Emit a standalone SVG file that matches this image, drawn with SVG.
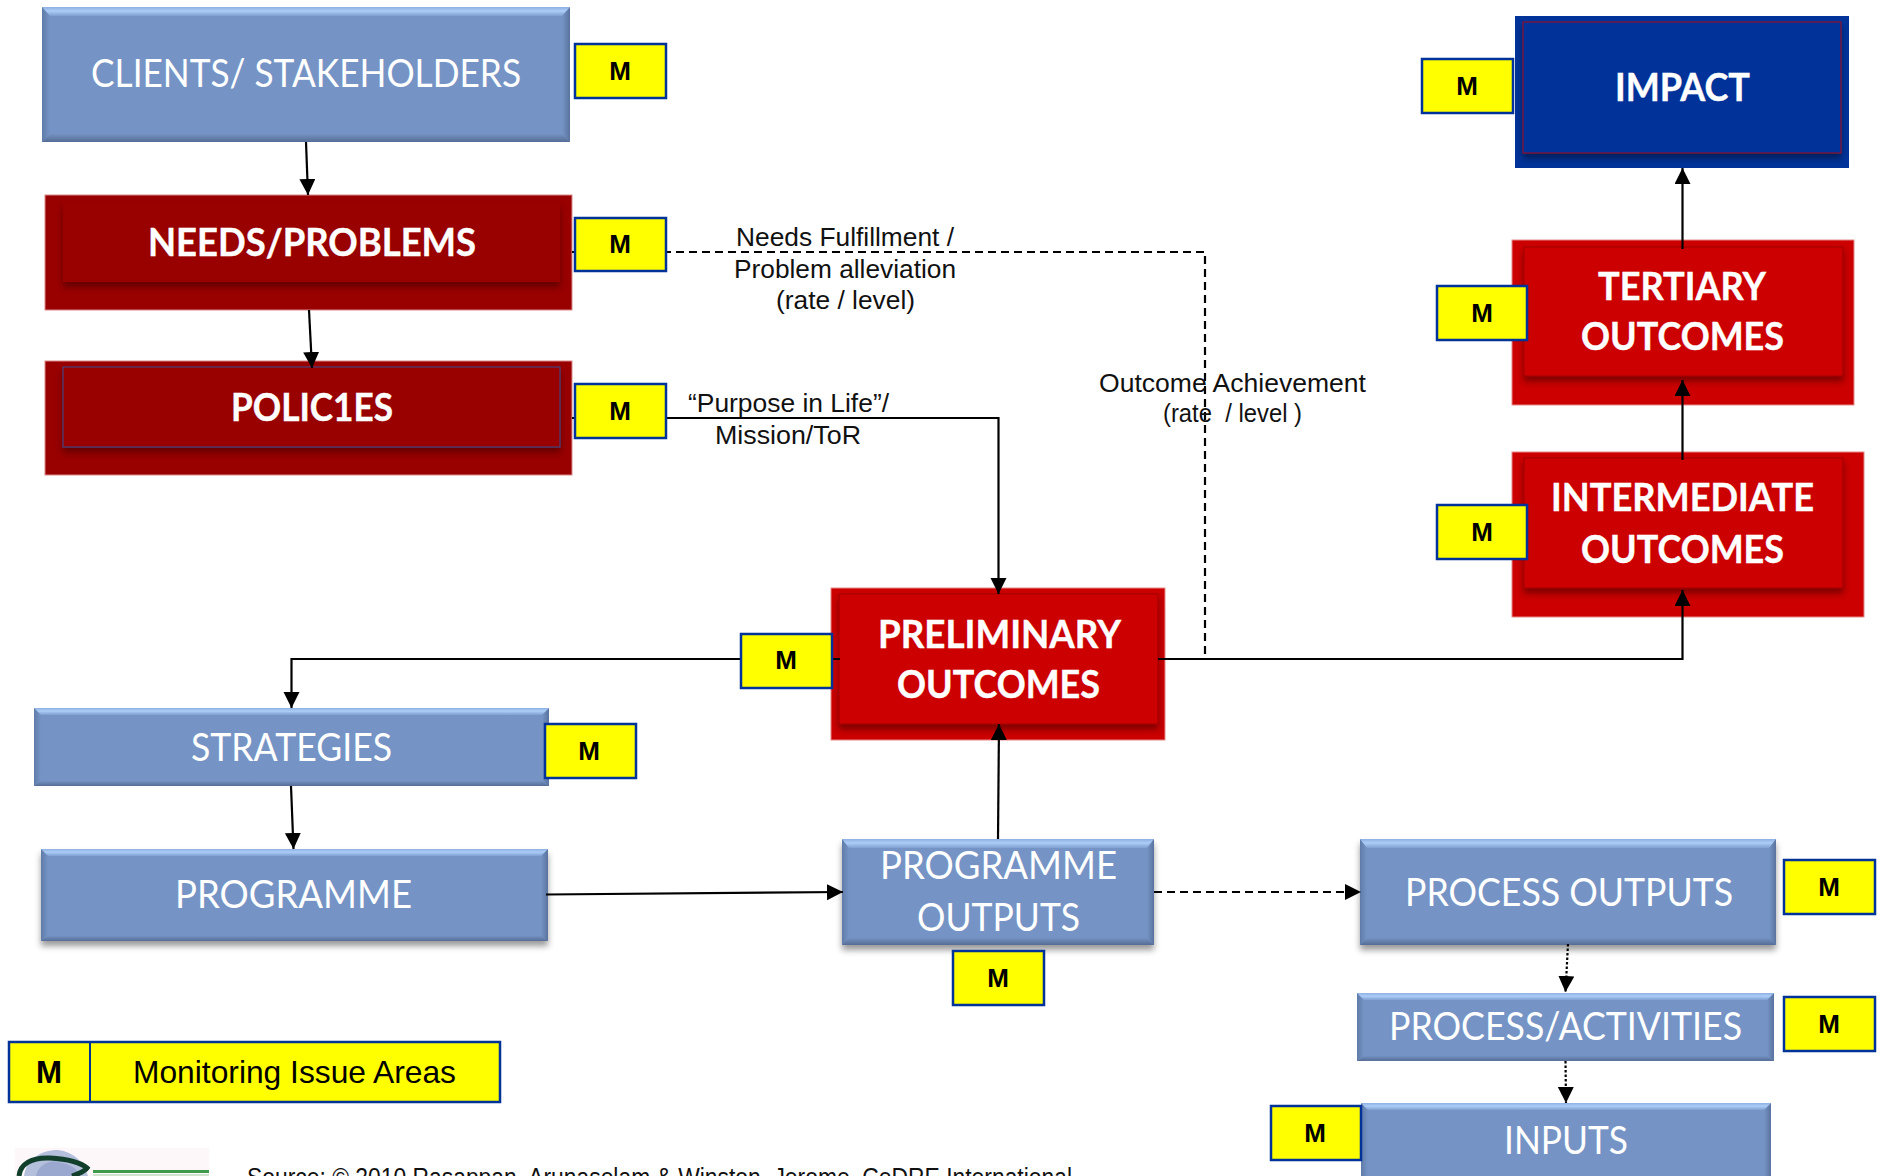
<svg xmlns="http://www.w3.org/2000/svg" width="1881" height="1176" viewBox="0 0 1881 1176">
<style>
text{font-family:"Liberation Sans",Arial,sans-serif}
.lt{font-family:Lato,"Open Sans",sans-serif;font-size:38px;fill:#fff}
.bd{font-family:Lato,"Open Sans",sans-serif;font-size:38px;font-weight:700;fill:#fff;stroke:#fff;stroke-width:.4}
.lb{font-size:26px;fill:#111}
.m{font-size:26px;font-weight:700;fill:#000;text-anchor:middle}
.mb{fill:#ff0;stroke:#003399;stroke-width:2.5}
.blue{fill:#7594c5}
.top{fill:url(#gt)}
.sl{fill:url(#gl)}
.sr{fill:url(#gr)}
.bot{fill:url(#gb)}
.dr{fill:#990000;stroke:#d98a8a;stroke-width:1}
.br{fill:#cc0000;stroke:#e58a8a;stroke-width:1}
.c{fill:none;stroke:#000;stroke-width:2.2}
.da{stroke-dasharray:8 5}
.do{stroke-dasharray:2.5 2}
</style>
<defs>
<linearGradient id="gt" x1="0" y1="0" x2="0" y2="1"><stop offset="0" stop-color="#8fb0e2"/><stop offset="0.45" stop-color="#abcdf6"/><stop offset="1" stop-color="#7f9fd0"/></linearGradient>
<linearGradient id="gl" x1="0" y1="0" x2="1" y2="0"><stop offset="0" stop-color="#5f7ba8"/><stop offset="1" stop-color="#7594c5"/></linearGradient>
<linearGradient id="gr" x1="0" y1="0" x2="1" y2="0"><stop offset="0" stop-color="#7594c5"/><stop offset="1" stop-color="#5a739e"/></linearGradient>
<linearGradient id="gb" x1="0" y1="0" x2="0" y2="1"><stop offset="0" stop-color="#7391c1"/><stop offset="1" stop-color="#566d96"/></linearGradient>
<filter id="sh" x="-5%" y="-5%" width="110%" height="125%"><feDropShadow dx="0" dy="5" stdDeviation="3" flood-color="#000" flood-opacity="0.4"/></filter>
<filter id="sr" x="-5%" y="-5%" width="110%" height="120%"><feDropShadow dx="0" dy="5" stdDeviation="3" flood-color="#300" flood-opacity="0.5"/></filter>
<marker id="a" markerUnits="userSpaceOnUse" markerWidth="18" markerHeight="18" refX="16" refY="8" orient="auto"><path d="M0,0L16,8L0,16Z" fill="#000"/></marker>
</defs>

<g id="clients">
<rect class="blue" x="42" y="7" width="528" height="135"/>
<path class="sl" d="M42,7L50,14V134L42,142Z"/>
<path class="sr" d="M570,7L562,14V134L570,142Z"/>
<path class="top" d="M42,7H570L562,16H50Z"/>
<path class="bot" d="M42,142L50,134H562L570,142Z"/>
<text class="lt" x="91" y="87" textLength="430" lengthAdjust="spacingAndGlyphs">CLIENTS/ STAKEHOLDERS</text>
</g>
<g id="needs">
<rect class="dr" x="45" y="195" width="527" height="115"/>
<rect x="63" y="202" width="497" height="80" fill="#990000" filter="url(#sr)"/>
<text class="bd" x="148" y="256" textLength="328" lengthAdjust="spacingAndGlyphs">NEEDS/PROBLEMS</text>
</g>
<g id="policies">
<rect class="dr" x="45" y="361" width="527" height="114"/>
<rect x="63" y="367" width="497" height="80" fill="#990000" stroke="#3a4f8f" stroke-width="1" filter="url(#sr)"/>
<text class="bd" x="231" y="421" textLength="162" lengthAdjust="spacingAndGlyphs">POLIC1ES</text>
</g>
<g id="impact">
<rect x="1515" y="16" width="334" height="152" fill="#003399"/>
<rect x="1523" y="22" width="318" height="131" fill="#003399" stroke="#8a1030" stroke-width="1.200" filter="url(#sh)"/>
<text class="bd" x="1615" y="101" textLength="135" lengthAdjust="spacingAndGlyphs">IMPACT</text>
</g>
<g id="tertiary">
<rect class="br" x="1512" y="240" width="342" height="165"/>
<rect x="1524" y="247" width="319" height="129" fill="#cc0000" stroke="#a00000" stroke-width="1" filter="url(#sr)"/>
<text class="bd" x="1598" y="300" textLength="168" lengthAdjust="spacingAndGlyphs">TERTIARY</text>
<text class="bd" x="1581" y="350" textLength="203" lengthAdjust="spacingAndGlyphs">OUTCOMES</text>
</g>
<g id="intermediate">
<rect class="br" x="1512" y="452" width="352" height="165"/>
<rect x="1524" y="458" width="319" height="130" fill="#cc0000" stroke="#a00000" stroke-width="1" filter="url(#sr)"/>
<text class="bd" x="1551" y="511" textLength="263" lengthAdjust="spacingAndGlyphs">INTERMEDIATE</text>
<text class="bd" x="1581" y="563" textLength="203" lengthAdjust="spacingAndGlyphs">OUTCOMES</text>
</g>
<g id="preliminary">
<rect class="br" x="831" y="588" width="334" height="152"/>
<rect x="839" y="594" width="319" height="130" fill="#cc0000" stroke="#a00000" stroke-width="1" filter="url(#sr)"/>
<text class="bd" x="878" y="648" textLength="243" lengthAdjust="spacingAndGlyphs">PRELIMINARY</text>
<text class="bd" x="897" y="698" textLength="203" lengthAdjust="spacingAndGlyphs">OUTCOMES</text>
</g>
<g id="strategies">
<rect class="blue" x="34" y="708" width="515" height="78"/>
<path class="sl" d="M34,708L41,714V781L34,786Z"/>
<path class="sr" d="M549,708L542,714V781L549,786Z"/>
<path class="top" d="M34,708H549L542,715H41Z"/>
<path class="bot" d="M34,786L41,781H542L549,786Z"/>
<text class="lt" x="191" y="761" textLength="201" lengthAdjust="spacingAndGlyphs">STRATEGIES</text>
</g>
<g id="programme">
<g filter="url(#sh)"><rect class="blue" x="41" y="849" width="507" height="92"/></g>
<path class="sl" d="M41,849L48,855V936L41,941Z"/>
<path class="sr" d="M548,849L541,855V936L548,941Z"/>
<path class="top" d="M41,849H548L541,856H48Z"/>
<path class="bot" d="M41,941L48,936H541L548,941Z"/>
<text class="lt" x="175" y="908" textLength="237" lengthAdjust="spacingAndGlyphs">PROGRAMME</text>
</g>
<g id="programme-outputs">
<g filter="url(#sh)"><rect class="blue" x="842" y="839" width="312" height="106"/></g>
<path class="sl" d="M842,839L849,846V938L842,945Z"/>
<path class="sr" d="M1154,839L1147,846V938L1154,945Z"/>
<path class="top" d="M842,839H1154L1147,848H849Z"/>
<path class="bot" d="M842,945L849,938H1147L1154,945Z"/>
<text class="lt" x="880" y="879" textLength="237" lengthAdjust="spacingAndGlyphs">PROGRAMME</text>
<text class="lt" x="917" y="931" textLength="163" lengthAdjust="spacingAndGlyphs">OUTPUTS</text>
</g>
<g id="process-outputs">
<g filter="url(#sh)"><rect class="blue" x="1360" y="839" width="416" height="106"/></g>
<path class="sl" d="M1360,839L1367,846V938L1360,945Z"/>
<path class="sr" d="M1776,839L1769,846V938L1776,945Z"/>
<path class="top" d="M1360,839H1776L1769,848H1367Z"/>
<path class="bot" d="M1360,945L1367,938H1769L1776,945Z"/>
<text class="lt" x="1405" y="906" textLength="328" lengthAdjust="spacingAndGlyphs">PROCESS OUTPUTS</text>
</g>
<g id="process-activities">
<rect class="blue" x="1357" y="993" width="417" height="68"/>
<path class="sl" d="M1357,993L1364,1000V1056L1357,1061Z"/>
<path class="sr" d="M1774,993L1767,1000V1056L1774,1061Z"/>
<path class="top" d="M1357,993H1774L1767,1000H1364Z"/>
<path class="bot" d="M1357,1061L1364,1056H1767L1774,1061Z"/>
<text class="lt" x="1389" y="1040" textLength="353" lengthAdjust="spacingAndGlyphs">PROCESS/ACTIVITIES</text>
</g>
<g id="inputs">
<rect class="blue" x="1361" y="1103" width="410" height="80"/>
<path class="sl" d="M1361,1103L1368,1110V1176H1361Z"/>
<path class="sr" d="M1771,1103L1764,1110V1176H1771Z"/>
<path class="top" d="M1361,1103H1771L1764,1110H1368Z"/>
<text class="lt" x="1504" y="1154" textLength="124" lengthAdjust="spacingAndGlyphs">INPUTS</text>
</g>

<g id="connectors">
<path class="c" marker-end="url(#a)" d="M306,142L308,195"/>
<path class="c" marker-end="url(#a)" d="M309,310L312,368"/>
<path class="c da" d="M572,252H1205V660"/>
<path class="c" marker-end="url(#a)" d="M572,418H998.500V594"/>
<path class="c" marker-end="url(#a)" d="M840,659H291.500V708"/>
<path class="c" marker-end="url(#a)" d="M1158,659H1682.500V590"/>
<path class="c" marker-end="url(#a)" d="M1682.500,460V380"/>
<path class="c" marker-end="url(#a)" d="M1682.500,249V168"/>
<path class="c" marker-end="url(#a)" d="M291,786L293.500,849"/>
<path class="c" marker-end="url(#a)" d="M546,894.500L843,892"/>
<path class="c" marker-end="url(#a)" d="M998,839L999,724"/>
<path class="c da" marker-end="url(#a)" d="M1154,892H1361"/>
<path class="c do" marker-end="url(#a)" d="M1568,944L1565.500,992"/>
<path class="c do" marker-end="url(#a)" d="M1565.500,1061L1566,1103"/>
</g>

<g id="m-clients"><rect class="mb" x="575" y="44" width="91" height="54"/><text class="m" x="620" y="80">M</text></g>
<g id="m-needs"><rect class="mb" x="575" y="218" width="91" height="53"/><text class="m" x="620" y="253">M</text></g>
<g id="m-policies"><rect class="mb" x="575" y="384" width="91" height="54"/><text class="m" x="620" y="420">M</text></g>
<g id="m-impact"><rect class="mb" x="1422" y="59" width="91" height="54"/><text class="m" x="1467" y="95">M</text></g>
<g id="m-tertiary"><rect class="mb" x="1437" y="286" width="90" height="54"/><text class="m" x="1482" y="322">M</text></g>
<g id="m-intermediate"><rect class="mb" x="1437" y="505" width="90" height="54"/><text class="m" x="1482" y="541">M</text></g>
<g id="m-preliminary"><rect class="mb" x="741" y="634" width="91" height="54"/><text class="m" x="786" y="669">M</text></g>
<g id="m-strategies"><rect class="mb" x="545" y="724" width="91" height="54"/><text class="m" x="589" y="760">M</text></g>
<g id="m-programme-outputs"><rect class="mb" x="953" y="951" width="91" height="54"/><text class="m" x="998" y="987">M</text></g>
<g id="m-process-outputs"><rect class="mb" x="1784" y="860" width="91" height="54"/><text class="m" x="1829" y="896">M</text></g>
<g id="m-process-activities"><rect class="mb" x="1784" y="997" width="91" height="54"/><text class="m" x="1829" y="1033">M</text></g>
<g id="m-inputs"><rect class="mb" x="1271" y="1106" width="90" height="54"/><text class="m" x="1315" y="1142">M</text></g>

<g id="legend">
<rect class="mb" x="9" y="1042" width="491" height="60"/>
<path d="M90,1042V1102" stroke="#003399" stroke-width="2"/>
<text x="36" y="1083" font-size="32" font-weight="700" textLength="26" lengthAdjust="spacingAndGlyphs">M</text>
<text x="133" y="1083" font-size="32" textLength="323" lengthAdjust="spacingAndGlyphs">Monitoring Issue Areas</text>
</g>

<g id="labels">
<text class="lb" x="736" y="246" textLength="218" lengthAdjust="spacingAndGlyphs">Needs Fulfillment /</text>
<text class="lb" x="734" y="278" textLength="222" lengthAdjust="spacingAndGlyphs">Problem alleviation</text>
<text class="lb" x="776" y="309" textLength="139" lengthAdjust="spacingAndGlyphs">(rate / level)</text>
<text class="lb" x="688" y="412" textLength="201" lengthAdjust="spacingAndGlyphs">“Purpose in Life”/</text>
<text class="lb" x="715" y="444" textLength="146" lengthAdjust="spacingAndGlyphs">Mission/ToR</text>
<text class="lb" x="1099" y="392" textLength="267" lengthAdjust="spacingAndGlyphs">Outcome Achievement</text>
<text class="lb" x="1163" y="422" textLength="139" lengthAdjust="spacingAndGlyphs" xml:space="preserve">(rate  / level )</text>
<text class="lb" x="247" y="1186" textLength="825" lengthAdjust="spacingAndGlyphs">Source: © 2010 Rasappan, Arunaselam &amp; Winston, Jerome, CeDRE International</text>
</g>

<g id="logo">
<rect x="15" y="1148" width="194" height="28" fill="#fdf7f9"/>
<path d="M24,1176C26,1160 40,1150 58,1150C74,1152 84,1162 88,1176Z" fill="#b4bfdc"/>
<path d="M36,1176C38,1166 48,1160 58,1162C72,1164 78,1170 80,1176Z" fill="#9aa8cf"/>
<path d="M19,1176C20,1164 32,1157 50,1158C66,1159 80,1162 87,1168C84,1172 78,1174 72,1176" fill="none" stroke="#123f2c" stroke-width="5"/>
<rect x="93" y="1170" width="116" height="3" fill="#3f9a4c"/>
<rect x="93" y="1174" width="116" height="2" fill="#cfe3cf"/>
</g>
</svg>
